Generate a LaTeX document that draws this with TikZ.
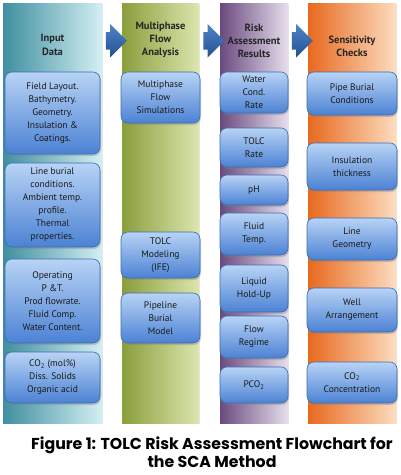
\documentclass[tikz,border=0pt]{standalone}
\usepackage{fontspec}
\setmainfont{PT Sans}
\newfontfamily\capfont{Poppins}
\usetikzlibrary{shapes,shapes.arrows,shadows,positioning,calc}
\definecolor{inTeal}{HTML}{3F8FA0}
\definecolor{inTealL}{HTML}{D4EFF3}
\definecolor{mfGreen}{HTML}{8A9E3C}
\definecolor{mfGreenL}{HTML}{DCE6AE}
\definecolor{raPurple}{HTML}{6A4A7E}
\definecolor{raPurpleL}{HTML}{E6DEEC}
\definecolor{scOrange}{HTML}{E8691F}
\definecolor{scOrangeL}{HTML}{FCDDC0}
\definecolor{boxTop}{HTML}{B8D3F5}
\definecolor{boxBot}{HTML}{4C82D4}
\definecolor{boxEdge}{HTML}{3C6CB4}
\definecolor{arrDark}{HTML}{24508F}
\definecolor{arrLight}{HTML}{4F84C8}
\tikzset{
    colBase/.style={
        rectangle,
        minimum height=420pt,
        inner sep=0pt,
        drop shadow={opacity=0.2, shadow xshift=1pt, shadow yshift=-1pt}
    },
    % Column variants
    inCol/.style={colBase, left color=inTeal, right color=inTealL},
    mfCol/.style={colBase, left color=mfGreen, right color=mfGreenL},
    raCol/.style={colBase, left color=raPurple, right color=raPurpleL},
    scCol/.style={colBase, left color=scOrange, right color=scOrangeL},
    colHead/.style={
        font=\bfseries\fontsize{10.5}{13.3}\selectfont,
        text=black!85,
        align=center,
        inner sep=1pt
    },
    flowBox/.style={
        rectangle,
        rounded corners=7pt,
        draw=boxEdge,
        line width=0.6pt,
        top color=boxTop,
        bottom color=boxBot,
        drop shadow={opacity=0.35, shadow xshift=1pt, shadow yshift=-2pt},
        font=\fontsize{9.5}{13}\selectfont,
        text=black!90,
        align=center,
        inner sep=1pt
    },
    % Arrows
    stepArrow/.style={
        single arrow,
        single arrow head extend=8pt,
        minimum height=21pt,
        inner xsep=0pt,
        inner ysep=8.5pt,
        top color=arrLight,
        bottom color=arrDark
    },
    capText/.style={
        font=\capfont\bfseries\fontsize{15.8}{18.5}\selectfont,
        align=center,
        inner sep=0pt
    }
}
\begin{document}
\begin{tikzpicture}[x=1pt, y=-1pt]
\useasboundingbox (0,0) rectangle (401,475);

\node[inCol, minimum width=99pt] (inColumn) at (52.5,213) {};
\node[mfCol, minimum width=77pt] (mfColumn) at (160.5,213) {};
\node[raCol, minimum width=68pt] (raColumn) at (254,213) {};
\node[scCol, minimum width=88pt] (scColumn) at (352,213) {};

\node[stepArrow] (arrA) at ($(inColumn.north east)!0.5!(mfColumn.north west)+(0,38)$) {};
\node[stepArrow] (arrB) at ($(mfColumn.north east)!0.5!(raColumn.north west)+(0,38)$) {};
\node[stepArrow] (arrC) at ($(raColumn.north east)!0.5!(scColumn.north west)+(0,38)$) {};

\node[colHead] (inHead) at (52.5,45) {Input\\Data};
\node[colHead] (mfHead) at (160.5,40) {Multiphase\\Flow\\Analysis};
\node[colHead] (raHead) at (254,41) {Risk\\Assessment\\Results};
\node[colHead] (scHead) at (352,46) {Sensitivity\\Checks};

% Input data
\node[flowBox, minimum width=95pt, minimum height=82pt] (inLayout) at (52.5,113) {Field Layout.\\Bathymetry.\\Geometry.\\Insulation \&\\Coatings.};
\node[flowBox, minimum width=95pt, minimum height=84pt] (inBurial) at (52.5,205) {Line burial\\conditions.\\Ambient temp.\\profile.\\Thermal\\properties.};
\node[flowBox, minimum width=95pt, minimum height=84pt] (inOper) at (52.5,301) {Operating\\P \&T.\\Prod flowrate.\\Fluid Comp.\\Water Content.};
\node[flowBox, minimum width=95pt, minimum height=51pt] (inChem) at (52.5,377.5) {CO\textsubscript{2} (mol\%)\\Diss. Solids\\Organic acid};

% Multiphase flow analysis
\node[flowBox, minimum width=79pt, minimum height=51pt] (mfSim) at (160.5,97.5) {Multiphase\\Flow\\Simulations};
\node[flowBox, minimum width=79pt, minimum height=46pt] (mfTolc) at (160.5,255) {TOLC\\Modeling\\(IFE)};
\node[flowBox, minimum width=79pt, minimum height=50pt] (mfBurial) at (160.5,318) {Pipeline\\Burial\\Model};

% Risk assessment results
\node[flowBox, minimum width=68pt, minimum height=41pt] (raWater) at (254,92.5) {Water\\Cond.\\Rate};
\node[flowBox, minimum width=68pt, minimum height=39pt] (raTolc) at (254,147.5) {TOLC\\Rate};
\node[flowBox, minimum width=68pt, minimum height=30pt] (raPh) at (254,190) {pH};
\node[flowBox, minimum width=68pt, minimum height=42pt] (raTemp) at (254,234) {Fluid\\Temp.};
\node[flowBox, minimum width=68pt, minimum height=47pt] (raHold) at (254,288.5) {Liquid\\Hold-Up};
\node[flowBox, minimum width=68pt, minimum height=42pt] (raRegime) at (254,337) {Flow\\Regime};
\node[flowBox, minimum width=68pt, minimum height=36pt] (raPco) at (254,385) {PCO\textsubscript{2}};

% Sensitivity checks
\node[flowBox, minimum width=90pt, minimum height=43pt] (scBurial) at (352,93.5) {Pipe Burial\\Conditions};
\node[flowBox, minimum width=90pt, minimum height=47pt] (scInsul) at (352,166.5) {Insulation\\thickness};
\node[flowBox, minimum width=90pt, minimum height=42pt] (scGeom) at (352,239) {Line\\Geometry};
\node[flowBox, minimum width=90pt, minimum height=44pt] (scWell) at (352,310) {Well\\Arrangement};
\node[flowBox, minimum width=90pt, minimum height=41pt] (scCo) at (352,382.5) {CO\textsubscript{2}\\Concentration};

\node[capText] (caption) at (212,452) {Figure 1: TOLC Risk Assessment Flowchart for\\the SCA Method};
\end{tikzpicture}
\end{document}
